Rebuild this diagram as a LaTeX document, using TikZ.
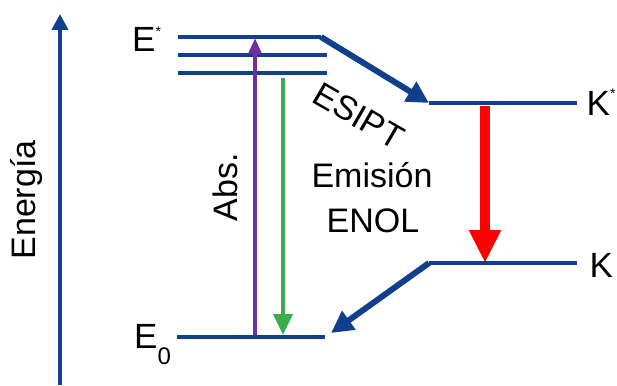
\documentclass[tikz,border=0pt]{standalone}
\usepackage{fontspec}
\setmainfont{Liberation Sans}
\usetikzlibrary{arrows.meta}
\definecolor{lvblue}{RGB}{16,64,140}
\definecolor{abspurple}{RGB}{112,48,160}
\definecolor{emgreen}{RGB}{58,174,78}
\definecolor{kred}{RGB}{255,0,0}
\begin{document}
\begin{tikzpicture}[x=1pt,y=-1pt,
  level/.style={draw=lvblue, line width=3.5pt},
  bigblue/.style={draw=lvblue, line width=6pt, -{Triangle[length=22pt,width=22pt]}, fill=lvblue},
  axisarrow/.style={draw=lvblue, line width=4.5pt, -{Triangle[length=16pt,width=16pt]}, fill=lvblue},
  absarrow/.style={draw=abspurple, line width=4pt, -{Triangle[length=16pt,width=13pt]}, fill=abspurple},
  emarrow/.style={draw=emgreen, line width=4pt, -{Triangle[length=21pt,width=19pt]}, fill=emgreen},
  redarrow/.style={draw=kred, line width=10pt, -{Triangle[length=33pt,width=30pt]}, fill=kred},
  lbl/.style={font=\fontsize{35}{40}\selectfont, inner sep=0pt},
  txt/.style={font=\fontsize{34}{40}\selectfont, inner sep=0pt}]
\useasboundingbox (0,0) rectangle (617,385);
% level coordinates
\coordinate (Es1L) at (178,37);  \coordinate (Es1R) at (321,37);
\coordinate (Es2L) at (178,55);  \coordinate (Es2R) at (327,55);
\coordinate (Es3L) at (178,73);  \coordinate (Es3R) at (327,73);
\coordinate (E0L)  at (177,337); \coordinate (E0R)  at (325,337);
\coordinate (KsL)  at (429,103); \coordinate (KsR)  at (577,103);
\coordinate (KL)   at (429,263); \coordinate (KR)   at (577,263);
\coordinate (E0in) at (331,333);
\coordinate (axB) at (60,385); \coordinate (axT) at (60,14);
\coordinate (absB) at (255,335); \coordinate (absT) at (255,38);
\coordinate (emT) at (283,78); \coordinate (emB) at (283,335);
\coordinate (rT) at (485,106); \coordinate (rB) at (485,263);
% levels
\draw[level] (Es1L) -- (Es1R);
\draw[level] (Es2L) -- (Es2R);
\draw[level] (Es3L) -- (Es3R);
\draw[level] (E0L) -- (E0R);
\draw[level] (KsL) -- (KsR);
\draw[level] (KL) -- (KR);
% arrows
\draw[axisarrow] (axB) -- (axT);
\draw[absarrow] (absB) -- (absT);
\draw[emarrow] (emT) -- (emB);
\draw[redarrow] (rT) -- (rB);
\draw[bigblue] (Es1R) -- (KsL);
\draw[bigblue] (KL) -- (E0in);
% labels
\node[lbl, anchor=base west] (Estar) at (132,52) {E\raisebox{15pt}{\fontsize{14}{14}\selectfont *}};
\node[lbl, anchor=base west] (E0lbl) at (134,348) {E\raisebox{-16pt}{\fontsize{24}{24}\selectfont 0}};
\node[lbl, anchor=base west] (Kstar) at (586.5,115) {K\raisebox{17pt}{\fontsize{14}{14}\selectfont *}};
\node[lbl, anchor=base west] (Klbl) at (589.5,277) {K};
\node[txt, rotate=90, anchor=base] (energia) at (35,200) {Energía};
\node[txt, rotate=90, anchor=base] (abs) at (237,187) {Abs.};
\node[txt, anchor=base] (emision) at (372,187) {Emisión};
\node[txt, anchor=base] (enol) at (373,232) {ENOL};
\node[txt, rotate=-30, anchor=base] (esipt) at (353,126) {ESIPT};
\end{tikzpicture}
\end{document}
